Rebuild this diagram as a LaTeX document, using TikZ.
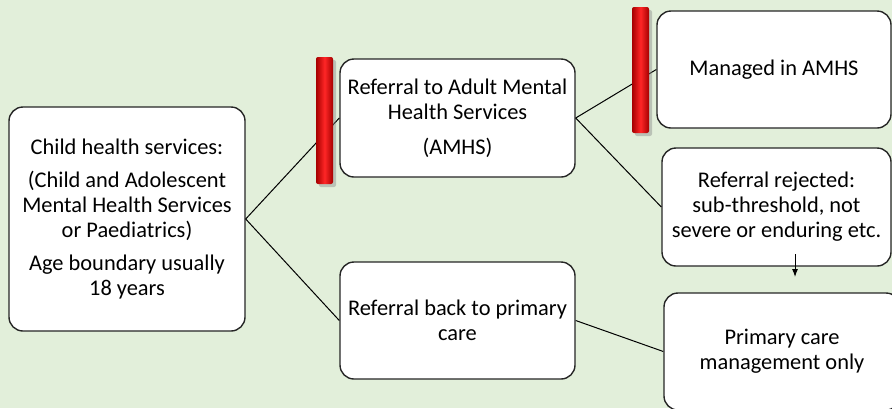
\documentclass[tikz,border=0pt]{standalone}
\usepackage{fontspec}
\setmainfont{Carlito}
\usetikzlibrary{shadows,arrows.meta}
\definecolor{bggreen}{RGB}{226,239,218}

\begin{document}
\begin{tikzpicture}[x=0.5pt,y=-0.5pt,
  every node/.style={align=center, font=\fontsize{11.2}{12.5}\selectfont},
  box/.style={draw=black!85, line width=0.7pt, fill=white, rounded corners=7pt, inner sep=0pt},
  redbar/.style={minimum width=8.5pt, minimum height=63.5pt, inner sep=0pt, rounded corners=1pt,
    left color=red!65!black, right color=red!65!black, middle color=red!85!white,
    drop shadow={shadow xshift=1.5pt, shadow yshift=-1.5pt, opacity=0.4}}]
\useasboundingbox (0,0) rectangle (892,408);
\fill[bggreen] (0,0) rectangle (892,408);
\clip (0,0) rectangle (892,408);
\node[box, minimum width=118pt, minimum height=112pt] (child) at (127,219)
  {Child health services:\\[4pt] (Child and Adolescent\\ Mental Health Services\\ or Paediatrics)\\[4pt] Age boundary usually\\ 18 years};
\node[box, minimum width=117.5pt, minimum height=59pt] (amhs) at (457.5,118)
  {Referral to Adult Mental\\ Health Services\\[5pt] (AMHS)};
\node[box, minimum width=117.5pt, minimum height=58.5pt] (back) at (457.5,320.5)
  {Referral back to primary\\ care};
\node[box, minimum width=117pt, minimum height=58.5pt] (managed) at (774,69.5)
  {Managed in AMHS};
\node[box, minimum width=114.5pt, minimum height=59pt] (rejected) at (776.5,207)
  {Referral rejected:\\ sub-threshold, not\\ severe or enduring etc.};
\node[box, minimum width=118pt, minimum height=58.5pt] (primary) at (782,351.5)
  {Primary care\\ management only};
\foreach \a/\b in {child/amhs, child/back, amhs/managed, amhs/rejected, back/primary}
  \draw[line width=0.5pt] (\a.east) -- (\b.west);
\node[redbar] (bar1) at (324.5,120.5) {};
\node[redbar, minimum height=63pt] (bar2) at (640.5,70) {};
\coordinate (arrtop) at (795,254);
\coordinate (arrbot) at (795,277);
\draw[line width=0.5pt, -{Latex[length=4pt,width=3pt]}] (arrtop) -- (arrbot);
\end{tikzpicture}
\end{document}
